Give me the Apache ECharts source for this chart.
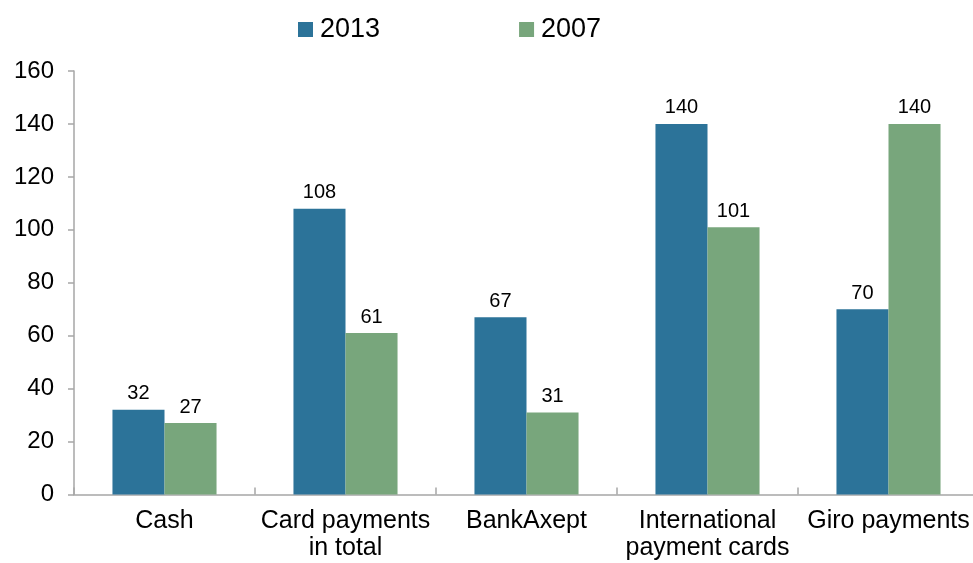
<!DOCTYPE html>
<html>
<head>
<meta charset="utf-8">
<script src="https://cdn.jsdelivr.net/npm/echarts@6/dist/echarts.min.js"></script>
<style>html,body{margin:0;padding:0;background:#fff;overflow:hidden}#c{width:990px;height:563px}</style>
</head>
<body>
<div id="c"></div>
<script>
var categories = ['Cash', 'Card payments\nin total', 'BankAxept', 'International\npayment cards', 'Giro payments'];
var values2013 = [32, 108, 67, 140, 70];
var values2007 = [27, 61, 31, 101, 140];
var yTicks = { min: 0, max: 160, interval: 20 };

var font = 'Liberation Sans, Arial, sans-serif';
var chart = echarts.init(document.getElementById('c'), null, { renderer: 'canvas' });
var labelCfg = { show: true, position: 'top', distance: 6, color: '#000', fontSize: 20, fontFamily: font };
chart.setOption({
  animation: false,
  textStyle: { fontFamily: font },
  legend: {
    left: 293, top: 11,
    itemWidth: 15, itemHeight: 15, itemGap: 139,
    icon: 'rect',
    textStyle: { fontSize: 27, color: '#000', fontFamily: font, padding: [0, 0, 0, 2] },
    data: ['2013', '2007']
  },
  grid: { left: 74, top: 71, width: 905, height: 423.5, containLabel: false },
  xAxis: {
    type: 'category', data: categories,
    axisLine: { lineStyle: { color: '#a6a6a6', width: 1.5 } },
    axisTick: { show: true, inside: true, length: 7, lineStyle: { color: '#a6a6a6', width: 1.5 } },
    axisLabel: { color: '#000', fontSize: 25, fontFamily: font, margin: 13, lineHeight: 27, interval: 0 }
  },
  yAxis: {
    type: 'value', min: yTicks.min, max: yTicks.max, interval: yTicks.interval,
    axisLine: { show: true, lineStyle: { color: '#a6a6a6', width: 1.5 } },
    axisTick: { show: true, length: 6, lineStyle: { color: '#a6a6a6', width: 1.5 } },
    splitLine: { show: false },
    axisLabel: { color: '#000', fontSize: 24, fontFamily: font, margin: 20 }
  },
  series: [
    { name: '2013', type: 'bar', data: values2013, itemStyle: { color: '#2c7399' }, barGap: '0%', barCategoryGap: '42.5%', label: labelCfg },
    { name: '2007', type: 'bar', data: values2007, itemStyle: { color: '#78a67c' }, barGap: '0%', barCategoryGap: '42.5%', label: labelCfg }
  ]
});
</script>
</body>
</html>
